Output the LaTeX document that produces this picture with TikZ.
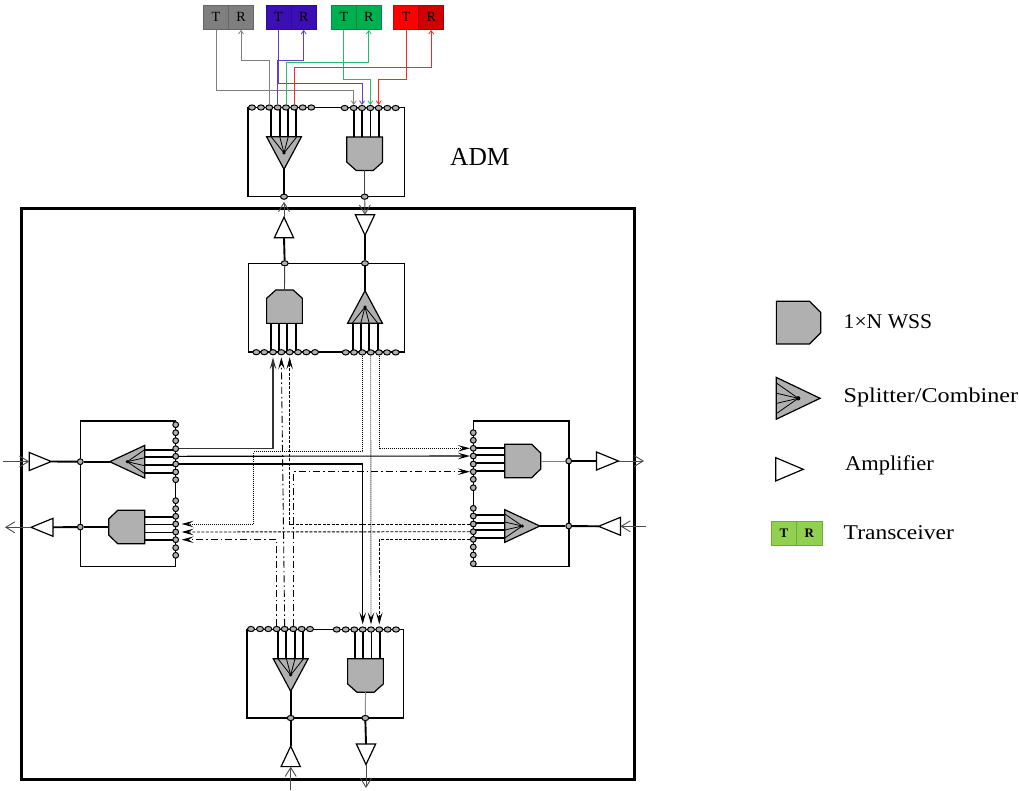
\documentclass[tikz,border=0pt]{standalone}
\usepackage{fontspec}
\setmainfont{Liberation Serif}
\usetikzlibrary{arrows.meta,shapes.geometric}
\definecolor{shapegray}{HTML}{B0B0B0}
\definecolor{tgray}{HTML}{7F7F7F}
\definecolor{tpurple}{HTML}{3C0FB4}
\definecolor{tgreen}{HTML}{00B050}
\definecolor{tred}{HTML}{FF0000}
\definecolor{tdred}{HTML}{D00000}
\definecolor{lgreen}{HTML}{92D050}
\tikzset{
  shapeline/.style={draw=black,line width=1.2pt,line join=miter},
  block/.style={draw=black,line width=1.2pt,inner sep=0pt,fill=none},
  mainbox/.style={draw=black,line width=3pt,inner sep=0pt},
  hport/.style={ellipse,draw=black,fill=shapegray,line width=1pt,minimum width=7pt,minimum height=5.2pt,inner sep=0pt},
  vport/.style={circle,draw=black,fill=shapegray,line width=1pt,minimum size=5.8pt,inner sep=0pt},
  stub/.style={draw=black,line width=1.9pt},
  thickconn/.style={draw=black,line width=1.9pt},
  thinconn/.style={draw=black!75,line width=.9pt},
  barb/.style={draw=black!70,line width=.9pt,-{Straight Barb[length=9pt,width=11pt]}},
  sharp/.style={-{Stealth[length=12pt,width=6.5pt,inset=5pt]}},
  solidconn/.style={sharp,draw=black,line width=1.1pt},
  dotconn/.style={sharp,draw=black,line width=.9pt,dash pattern=on 1pt off 1pt},
  dashconn/.style={sharp,draw=black,line width=.9pt,dash pattern=on 3pt off 1.5pt},
  dashdotconn/.style={sharp,draw=black,line width=.9pt,dash pattern=on 7pt off 3pt on 1.5pt off 3pt},
  cell/.style={draw=#1!80!black,line width=.6pt,fill=#1,minimum width=25pt,minimum height=24.5pt,inner sep=0pt,font=\fontsize{14}{16}\selectfont},
  lab/.style={anchor=west,inner sep=0pt,transform shape,font=\fontsize{21}{25}\selectfont},
  txline/.style={line width=.8pt,-{Straight Barb[length=3.5pt,width=5pt]}},
  wsspic/.pic={
    \draw[shapeline,fill=shapegray] (-18,-16.7) -- (9,-16.7) -- (18,-8) -- (18,8) -- (9,16.7) -- (-18,16.7) -- cycle;
    \coordinate (-tip) at (18,0);
    \coordinate (-base) at (-18,0);
  },
  splitpic/.pic={
    \draw[shapeline,fill=shapegray] (-17.5,-16.3) -- (17.5,0) -- (-17.5,16.3) -- cycle;
    \foreach \q in {-12,-4,4,12} \draw[line width=.8pt] (0,0) -- (-17.5,\q);
    \fill (0,0) circle (1.7);
    \coordinate (-tip) at (17.5,0);
    \coordinate (-base) at (-17.5,0);
  },
  amppic/.pic={
    \draw[shapeline,fill=white] (-11,-9) -- (11,0) -- (-11,9) -- cycle;
    \coordinate (-tip) at (11,0);
    \coordinate (-base) at (-11,0);
  },
  vertical/.style={xscale=.93,yscale=1.07}
}
\newcommand{\vstubs}[4]{\foreach \i in {#4} {\path ([xshift=#2pt]#1\i.center) coordinate (tmpstub); \draw[stub] (tmpstub) -- (tmpstub |- #3);}}
\newcommand{\hstubs}[4]{\foreach \i in {#4} {\path ([yshift=#2pt]#1\i.center) coordinate (tmpstub); \draw[stub] (tmpstub) -- (tmpstub -| #3);}}
\begin{document}
\begin{tikzpicture}[x=1pt,y=-1pt]
\useasboundingbox (0,0) rectangle (1019,790);
% main frame and blocks
\node[mainbox,minimum width=613.5pt,minimum height=571pt] (main) at (327.75,493.5) {};
\node[block,minimum width=156.3pt,minimum height=89pt] (Abox) at (326.15,152.2) {};
\node[block,minimum width=156.4pt,minimum height=88.7pt] (Nbox) at (326.5,307.65) {};
\node[block,minimum width=156.3pt,minimum height=88.7pt] (Sbox) at (325.15,673.65) {};
\node[block,minimum width=95.4pt,minimum height=145.7pt] (Wbox) at (128,493.85) {};
\node[block,minimum width=95.7pt,minimum height=145.7pt] (Ebox) at (521.15,493.85) {};
% optical blocks
\pic[rotate=270,vertical] (Asp) at (284,153) {splitpic};
\pic[rotate=270,vertical] (Aw) at (364.7,153.7) {wsspic};
\pic[rotate=90,vertical] (Nw) at (284.5,306.65) {wsspic};
\pic[rotate=90,vertical] (Nsp) at (365,307) {splitpic};
\pic[rotate=270,vertical] (Ssp) at (290.7,675) {splitpic};
\pic[rotate=270,vertical] (Sw) at (365.5,675.5) {wsspic};
\pic[rotate=180] (Wsp) at (127.2,461.7) {splitpic};
\pic[rotate=180] (Ww) at (126.7,527) {wsspic};
\pic (Ew) at (522.7,461) {wsspic};
\pic (Esp) at (522.3,526) {splitpic};
% amplifiers
\pic[rotate=90,vertical] (Nup) at (284,227.5) {amppic};
\pic[rotate=270,vertical] (Ndn) at (365,225) {amppic};
\pic[rotate=90,vertical] (Sup) at (290.7,756.4) {amppic};
\pic[rotate=270,vertical] (Sdn) at (366,754.3) {amppic};
\pic (Win) at (40.3,461.5) {amppic};
\pic[rotate=180] (Wout) at (42,527.3) {amppic};
\pic (Eout) at (607.5,461) {amppic};
\pic[rotate=180] (Ein) at (609.5,526.3) {amppic};
% free ends of the outer fibres
\coordinate (fWin) at (3,461.5);
\coordinate (fWout) at (5,527.3);
\coordinate (fEout) at (644,461);
\coordinate (fEin) at (646,526.3);
\coordinate (fSin) at (290.7,790);
\coordinate (fSout) at (366,788);
% add/drop stubs are drawn under the ports
\foreach \x [count=\i] in {252,261,269.3,277.7,286,294.3,302.7,311.3} \coordinate (Al\i) at (\x,107.5);
\foreach \x [count=\i] in {344.7,353.7,362,370.3,378.7,387.3,395.7} \coordinate (Ar\i) at (\x,108);
\foreach \x [count=\i] in {256.3,264.3,273,281.3,289.7,298,306.3,315} \coordinate (Nl\i) at (\x,352.2);
\foreach \x [count=\i] in {345.7,354,362.3,370.7,379,387,395.7} \coordinate (Nr\i) at (\x,352.4);
\foreach \x [count=\i] in {251,260,268.3,276.7,284.7,293.3,301.7,310} \coordinate (Sl\i) at (\x,629);
\foreach \x [count=\i] in {336.7,345.7,354.3,362.7,371,379.3,387.7,396} \coordinate (Sr\i) at (\x,629.5);
\foreach \y [count=\i] in {424.7,432.7,440.7,448.7,456.3,464,472,479.7} \coordinate (Wa\i) at (175.7,\y);
\foreach \y [count=\i] in {500.7,508.7,516.3,524,532,539.7,547.7,555.3} \coordinate (Wb\i) at (175.7,\y);
\foreach \y [count=\i] in {432.7,440.3,448.3,456,464,471.7,479.3,487.7} \coordinate (Ea\i) at (473.3,\y);
\foreach \y [count=\i] in {508.3,516,524,531.7,539.3,547,555,563.7} \coordinate (Eb\i) at (473.3,\y);
\vstubs{Al}{2}{Asp-base}{3,4,5,6}
\vstubs{Ar}{0.2}{Aw-base}{2,3,4,5}
\vstubs{Nl}{-2.4}{Nw-base}{3,4,5,6}
\vstubs{Nr}{-1.3}{Nsp-base}{2,3,4,5}
\vstubs{Sl}{1.7}{Ssp-base}{4,5,6,7}
\vstubs{Sr}{0.5}{Sw-base}{3,4,5,6}
\hstubs{Wa}{-1}{Wsp-base}{4,5,6,7}
\hstubs{Wb}{-.5}{Ww-base}{3,4,5,6}
\hstubs{Ea}{.6}{Ew-base}{3,4,5,6}
\hstubs{Eb}{1.4}{Esp-base}{2,3,4,5}
% ports
\foreach \i in {1,...,8} {\node[hport] (pAl\i) at (Al\i) {}; \node[hport] (pNl\i) at (Nl\i) {}; \node[hport] (pSl\i) at (Sl\i) {}; \node[hport] (pSr\i) at (Sr\i) {};
  \node[vport] (pWa\i) at (Wa\i) {}; \node[vport] (pWb\i) at (Wb\i) {}; \node[vport] (pEa\i) at (Ea\i) {}; \node[vport] (pEb\i) at (Eb\i) {};}
\foreach \i in {1,...,7} {\node[hport] (pAr\i) at (Ar\i) {}; \node[hport] (pNr\i) at (Nr\i) {};}
\node[hport] (Ab1) at (284,196.7) {};
\node[hport] (Ab2) at (364.7,196.7) {};
\node[hport] (Nt1) at (284.7,263.3) {};
\node[hport] (Nt2) at (365,263.3) {};
\node[hport] (Sb1) at (290.7,718) {};
\node[hport] (Sb2) at (365.3,718) {};
\node[vport] (Wm1) at (80.3,461.7) {};
\node[vport] (Wm2) at (80.3,527) {};
\node[vport] (Em1) at (568.7,461) {};
\node[vport] (Em2) at (568.7,526) {};
% links inside the blocks
\draw[thickconn] (Asp-tip) -- (Ab1);
\draw[thinconn] (Aw-tip) -- (Ab2);
\draw[thinconn] (Nw-tip) -- (Nt1);
\draw[thickconn] (Nsp-tip) -- (Nt2);
\draw[thickconn] (Ssp-tip) -- (Sb1);
\draw[thinconn,draw=black!45] (Sw-tip) -- (Sb2);
\draw[thickconn] (Wsp-tip) -- (Wm1);
\draw[thickconn] (Ww-tip) -- (Wm2);
\draw[thinconn,draw=black!50] (Ew-tip) -- (Em1);
\draw[thickconn] (Esp-tip) -- (Em2);
% block to amplifier
\draw[thickconn] (Nup-base) -- (Nt1);
\draw[thickconn] (Ndn-tip) -- (Nt2);
\draw[thickconn] (Sup-tip) -- (Sb1);
\draw[thickconn] (Sdn-base) -- (Sb2);
\draw[thickconn] (Win-tip) -- (Wm1);
\draw[thickconn] (Wout-base) -- (Wm2);
\draw[thickconn] (Eout-base) -- (Em1);
\draw[thickconn] (Ein-tip) -- (Em2);
% outer fibres
\draw[barb,shorten >=2pt] (Nup-tip) -- (Ab1);
\draw[barb] (Ab2) -- (Ndn-base);
\draw[barb] (fSin) -- (Sup-base);
\draw[barb] (Sdn-tip) -- (fSout);
\draw[barb] (fWin) -- (Win-base);
\draw[barb] (Wout-tip) -- (fWout);
\draw[barb] (Eout-tip) -- (fEout);
\draw[barb] (fEin) -- (Ein-base);
% mesh between the degrees
\draw[solidconn,shorten >=2pt,draw=black!80,line width=1.5pt] (pWa4.east) -| (pNl3.south);
\draw[solidconn] (pWa5.east) -- (pEa4.west);
\draw[solidconn,shorten >=2pt] (pWa6.east) -| (pSr4.north);
\draw[dotconn,shorten >=2.5pt] (pNr3.south) -- (pNr3 |- 0,451.7) -- (253.3,451.7) |- (pWb4.east);
\draw[dotconn,shorten >=2pt] (pNr4.south) -- (pSr5.north);
\draw[dotconn] (pNr5.south) |- (pEa3.west);
\draw[dashdotconn,shorten >=2.5pt] (pSl4.north) |- (pWb6.east);
\draw[dashdotconn,shorten >=2pt] (pSl5.north) -- (pNl4.south);
\draw[dashdotconn] (pSl6.north) |- (pEa6.west);
\draw[dashconn,shorten >=2pt] (pEb3.west) -| (pNl5.south);
\draw[dashconn,shorten >=2.5pt] (pEb4.west) -- (pWb5.east);
\draw[dashconn,shorten >=2pt] (pEb5.west) -| (pSr6.north);
% transceivers
\node[cell=tgray] (gT) at (216,17.3) {T};
\node[cell=tgray] (gR) at (241,17.3) {R};
\node[cell=tpurple] (pT) at (278.5,17.3) {T};
\node[cell=tpurple] (pR) at (303.7,17.3) {R};
\node[cell=tgreen] (eT) at (343.8,17.3) {T};
\node[cell=tgreen] (eR) at (368.8,17.3) {R};
\node[cell=tred] (rT) at (406.2,17.3) {T};
\node[cell=tdred] (rR) at (431.2,17.3) {R};
\draw[txline,tgray] (gT.south) -- (gT.south |- 0,90.7) -- (pAr2 |- 0,90.7) -- (pAr2.north);
\draw[txline,tgray] (pAl3.north) -- (pAl3 |- 0,60) -- (gR.south |- 0,60) -- (gR.south);
\draw[txline,tpurple!80] (pT.south) -- (pT.south |- 0,83.7) -- (pAr3 |- 0,83.7) -- (pAr3.north);
\draw[txline,tpurple!80] (pAl4.north) -- (pAl4 |- 0,60) -- (pR.south |- 0,60) -- (pR.south);
\draw[txline,tgreen!85] (eT.south) -- (eT.south |- 0,79.7) -- (pAr4 |- 0,79.7) -- (pAr4.north);
\draw[txline,tgreen!85] (pAl5.north) -- (pAl5 |- 0,62.3) -- (eR.south |- 0,62.3) -- (eR.south);
\draw[txline,tred!85] (rT.south) -- (rT.south |- 0,79.7) -- (pAr5 |- 0,79.7) -- (pAr5.north);
\draw[txline,tred!85] (pAl6.north) -- (pAl6 |- 0,67) -- (rR.south |- 0,67) -- (rR.south);
% labels and legend
\node[anchor=west,inner sep=0pt,transform shape,xscale=.98,font=\fontsize{26}{31}\selectfont] (adm) at (450,157) {ADM};
\pic[xscale=1.23,yscale=1.28] (legW) at (798.5,322.6) {wsspic};
\pic[xscale=1.25,yscale=1.28] (legS) at (798.2,398.3) {splitpic};
\pic[xscale=1.25,yscale=1.29] (legA) at (789.5,469.3) {amppic};
\node[cell=lgreen,minimum width=25.4pt,minimum height=24pt,font=\bfseries\fontsize{13}{15}\selectfont] (legT) at (784,533) {T};
\node[cell=lgreen,minimum width=25.4pt,minimum height=24pt,font=\bfseries\fontsize{13}{15}\selectfont] (legR) at (809.4,533) {R};
\node[lab,xscale=1.03] (t1) at (843.5,322) {1×N WSS};
\node[lab,xscale=1.15] (t2) at (843.5,397) {Splitter/Combiner};
\node[lab,xscale=1.07] (t3) at (845,465) {Amplifier};
\node[lab,xscale=1.12] (t4) at (843.5,533) {Transceiver};
\end{tikzpicture}
\end{document}
